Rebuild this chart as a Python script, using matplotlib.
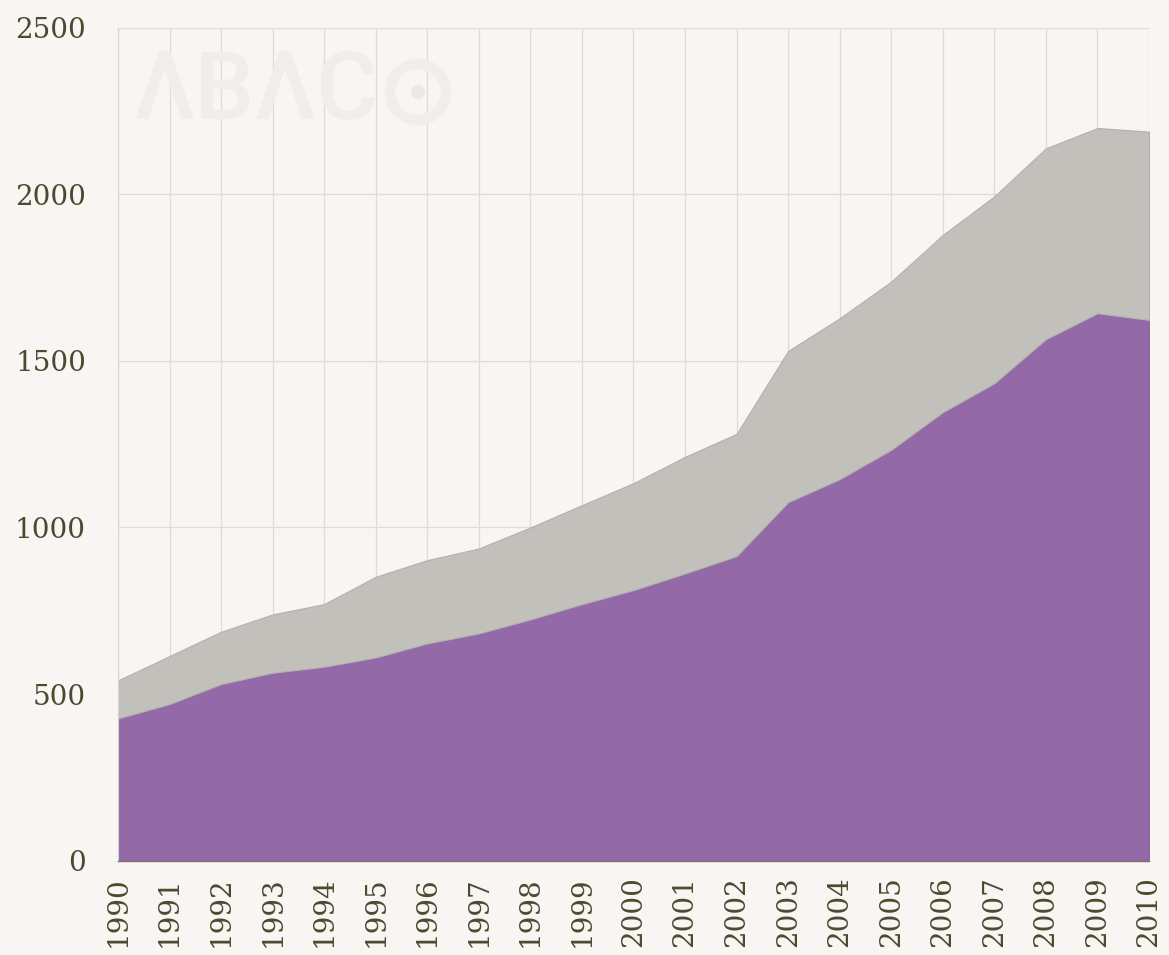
import matplotlib
matplotlib.use("Agg")
import matplotlib.pyplot as plt
from matplotlib.patches import Ellipse

years = list(range(1990, 2011))
year_labels = [str(y) for y in years]
purple_vals = [427, 470, 530, 564, 582, 610, 652, 682, 724, 770, 812, 862, 914,
               1076, 1145, 1233, 1346, 1433, 1565, 1643, 1623]
total_vals = [541, 614, 687, 739, 770, 852, 902, 937, 1000, 1067, 1133, 1212, 1281,
              1530, 1628, 1738, 1878, 1994, 2138, 2199, 2188]
gray_vals = [t - p for t, p in zip(total_vals, purple_vals)]
y_ticks = [0, 500, 1000, 1500, 2000, 2500]

bg = "#f7f6f2"
purple = "#9369a8"
gray = "#c1c0bb"
text_col = "#4b4a30"

W, H = 1169, 955
fig = plt.figure(figsize=(W / 100, H / 100), dpi=100, facecolor=bg)
ax = fig.add_axes([0.1009, 0.0988, 0.8820, 0.8722], facecolor=bg)

polys = ax.stackplot(years, purple_vals, gray_vals, colors=[purple, gray], zorder=2)
polys[0].set_edgecolor("#8c6a98")
polys[0].set_linewidth(0.8)
polys[1].set_edgecolor("#b3b1ad")
polys[1].set_linewidth(0.8)

ax.set_xlim(1990, 2010)
ax.set_ylim(0, 2500)
ax.set_xticks(years)
ax.set_xticklabels(year_labels, rotation=90, va="top", ha="center")
ax.set_yticks(y_ticks)
ax.set_yticklabels([str(v) for v in y_ticks])
ax.grid(True, color="#dedcd8", linewidth=0.9, zorder=0)
ax.set_axisbelow(True)
for s in ["top", "right"]:
    ax.spines[s].set_visible(False)
ax.spines["left"].set_color("#d6d5d0")
ax.spines["bottom"].set_color("#8a6a6f")
ax.spines["bottom"].set_linewidth(1.0)
ax.tick_params(length=0, labelsize=20, labelcolor=text_col)
ax.tick_params(axis="y", pad=23)
ax.tick_params(axis="x", pad=11)
for lab in ax.get_xticklabels() + ax.get_yticklabels():
    lab.set_fontfamily("DejaVu Serif")

# faint "ABACO" watermark
wm = "#efeeea"
fig.text(0.114, 0.903, "ΛBΛC", fontsize=68, color=wm,
         family="Roboto", fontweight="medium", ha="left", va="center", zorder=1)
cx, cy = 418 / W, 1 - 92 / H
fig.patches.append(Ellipse((cx, cy), 56 / W, 56 / H, transform=fig.transFigure,
                           facecolor="none", edgecolor=wm, linewidth=7.5, zorder=1))
fig.patches.append(Ellipse((cx, cy), 14 / W, 14 / H, transform=fig.transFigure,
                           facecolor="#eae9e5", edgecolor="none", zorder=1))

fig.savefig("out.png", dpi=100, facecolor=bg)
